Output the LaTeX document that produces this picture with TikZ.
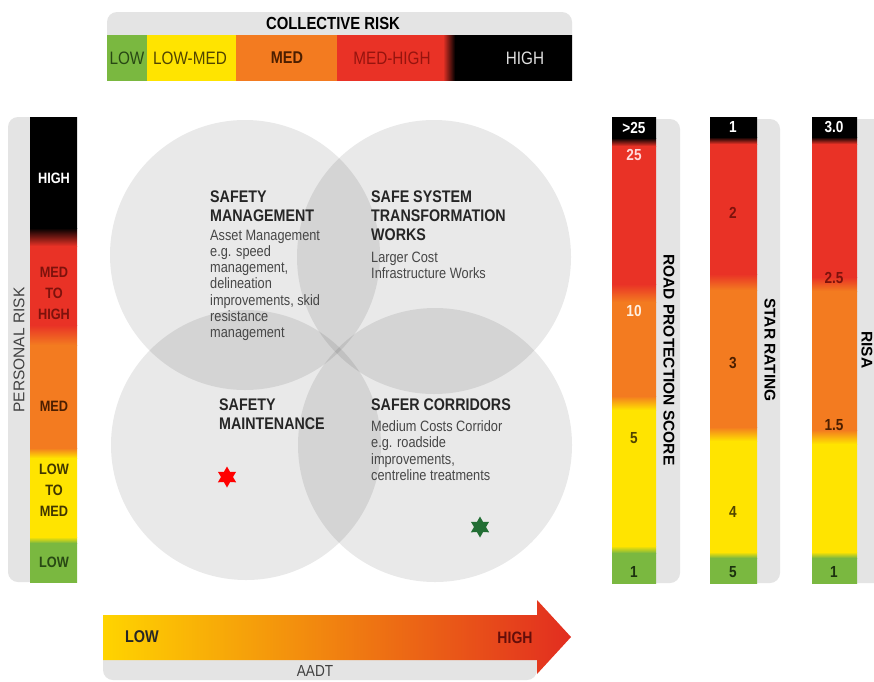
\documentclass[tikz,border=0pt]{standalone}
\usepackage{fontspec}
\setmainfont{Liberation Sans}
\newfontfamily\cond[FakeStretch=0.85]{Liberation Sans}
\usetikzlibrary{shapes.geometric}
\definecolor{cgreen}{RGB}{122,184,64}
\definecolor{cyellow}{RGB}{255,228,0}
\definecolor{corange}{RGB}{243,123,32}
\definecolor{cred}{RGB}{233,50,38}
\definecolor{cgray}{RGB}{228,228,228}
\definecolor{ayellow}{RGB}{255,212,0}
\definecolor{aorange}{RGB}{244,150,30}
\definecolor{ared}{RGB}{226,45,32}
\definecolor{tgreen}{RGB}{40,72,20}
\definecolor{tolive}{RGB}{80,68,0}
\definecolor{tbrown}{RGB}{75,30,0}
\definecolor{tdred}{RGB}{125,18,12}
\definecolor{tmred}{RGB}{150,20,14}
\definecolor{tgray}{RGB}{65,65,65}
\definecolor{sgreen}{RGB}{34,110,52}
\tikzset{
  strip/.style={fill=cgray, rounded corners=10pt},
  circ/.style={fill=black, fill opacity=0.085},
  ttl/.style={font=\cond\bfseries\fontsize{16.8}{19}\selectfont, align=left, anchor=north west, inner sep=0, text=black!85},
  bdy/.style={font=\cond\fontsize{15}{16.3}\selectfont, align=left, anchor=north west, inner sep=0, text=black!72},
  toplab/.style={font=\cond\fontsize{18}{20}\selectfont, inner sep=0},
  blab/.style={font=\cond\bfseries\fontsize{15}{21}\selectfont, inner sep=0, align=center},
  nlab/.style={font=\cond\bfseries\fontsize{16}{18}\selectfont, inner sep=0},
  vlab/.style={font=\bfseries\fontsize{15.5}{18}\selectfont, inner sep=0, rotate=-90},
  starmark/.style={star, star points=6, star point ratio=1.75, inner sep=0, minimum size=21pt}
}
\newcommand{\vbarsegs}[3]{%
  \foreach \ya/\yb/\ca/\cb in {#3}{\shade[top color=\ca, bottom color=\cb] (#1,\ya) rectangle (#2,\yb);}}
\begin{document}
\begin{tikzpicture}[x=1pt,y=-1pt]
\useasboundingbox (0,0) rectangle (874,681);
\fill[white] (0,0) rectangle (874,681);

% ---------- gray strips ----------
\fill[strip] (107,12) rectangle (572,48);
\fill[strip] (8,117) rectangle (45,582);
\fill[strip] (645,119) rectangle (680,583);
\fill[strip] (745,119) rectangle (780,583);
\fill[strip] (845,119) rectangle (885,583);
\fill[strip] (103,645) rectangle (537,680);

% ---------- top bar ----------
\foreach \xa/\xb/\ca/\cb in {107/147/cgreen/cgreen,147/236/cyellow/cyellow,236/337/corange/corange,337/443/cred/cred,443/455/cred/black,455/572/black/black}{
  \shade[left color=\ca, right color=\cb] (\xa,35) rectangle (\xb,80);}
\node[font=\cond\bfseries\fontsize{17.5}{20}\selectfont, inner sep=0] (coll) at (333,23) {COLLECTIVE RISK};
\node[toplab, text=tgreen] (tlow) at (127,58) {LOW};
\node[toplab, text=tolive] (tlowmed) at (190,58) {LOW-MED};
\node[toplab, font=\cond\bfseries\fontsize{17}{20}\selectfont, text=tbrown] (tmed) at (287,58) {MED};
\node[toplab, text=tmred] (tmedhigh) at (392,58) {MED-HIGH};
\node[toplab, text=black!12] (thigh) at (525,58) {HIGH};

% ---------- left bar ----------
\vbarsegs{30}{77}{117/228/black/black,228/246/black/cred,246/325/cred/cred,325/345/cred/corange,345/448/corange/corange,448/458/corange/cyellow,458/537/cyellow/cyellow,537/543/cyellow/cgreen,543/582/cgreen/cgreen}
\node[blab, text=white] (lhigh) at (54,178) {HIGH};
\node[blab, text=tdred] (lmedhigh) at (54,293) {MED\\TO\\HIGH};
\node[blab, text=tbrown] (lmed) at (54,406) {MED};
\node[blab, text=tolive!80!black] (llowmed) at (54,490) {LOW\\TO\\MED};
\node[blab, text=tgreen] (llow) at (54,562) {LOW};
\node[font=\fontsize{15.5}{18}\selectfont, text=tgray, rotate=90, inner sep=0] (pers) at (19,350) {PERSONAL RISK};

% ---------- right bars ----------
\vbarsegs{612}{656}{117/138/black/black,138/146/black/cred,146/284/cred/cred,284/302/cred/corange,302/396/corange/corange,396/410/corange/cyellow,410/546/cyellow/cyellow,546/553/cyellow/cgreen,553/583/cgreen/cgreen}
\vbarsegs{710}{757}{117/137/black/black,137/144/black/cred,144/274/cred/cred,274/290/cred/corange,290/427/corange/corange,427/441/corange/cyellow,441/552/cyellow/cyellow,552/558/cyellow/cgreen,558/583/cgreen/cgreen}
\vbarsegs{812}{857}{117/137/black/black,137/144/black/cred,144/277/cred/cred,277/291/cred/corange,291/430/corange/corange,430/444/corange/cyellow,444/552/cyellow/cyellow,552/558/cyellow/cgreen,558/583/cgreen/cgreen}

\node[nlab, text=white] (r25p) at (634,128) {>25};
\node[nlab, text=red!15] (r25) at (634,155) {25};
\node[nlab, text=orange!12] (r10) at (634,311) {10};
\node[nlab, text=tolive] (r5) at (634,438) {5};
\node[nlab, text=tgreen!70!black] (r1) at (634,572) {1};
\node[vlab] (rps) at (669,360) {ROAD PROTECTION SCORE};

\node[nlab, text=white] (s1) at (733,127) {1};
\node[nlab, text=tdred] (s2) at (733,213) {2};
\node[nlab, text=tbrown] (s3) at (733,363) {3};
\node[nlab, text=tolive] (s4) at (733,512) {4};
\node[nlab, text=tgreen!70!black] (s5) at (733,572) {5};
\node[vlab] (star) at (770,350) {STAR RATING};

\node[nlab, text=white] (k30) at (834,127) {3.0};
\node[nlab, text=tdred] (k25) at (834,278) {2.5};
\node[nlab, text=tbrown] (k15) at (834,425) {1.5};
\node[nlab, text=tgreen!70!black] (k1) at (834,572) {1};
\node[vlab] (risa) at (867,350) {RISA};

% ---------- circles ----------
\fill[circ] (245,255) circle[radius=135pt];
\fill[circ] (434,257) circle[radius=137pt];
\fill[circ] (246,445) circle[radius=135pt];
\fill[circ] (435,445) circle[radius=137pt];

\node[ttl] (smt) at (210,191) {SAFETY\\MANAGEMENT};
\node[bdy] (smb) at (210,229.5) {Asset Management\\e.g. speed\\management,\\delineation\\improvements, skid\\resistance\\management};
\node[ttl] (sst) at (371,191) {SAFE SYSTEM\\TRANSFORMATION\\WORKS};
\node[bdy] (ssb) at (371,252) {Larger Cost\\Infrastructure Works};
\node[ttl] (smaint) at (219,399) {SAFETY\\MAINTENANCE};
\node[ttl] (sct) at (371,399) {SAFER CORRIDORS};
\node[bdy] (scb) at (371,420.5) {Medium Costs Corridor\\e.g. roadside\\improvements,\\centreline treatments};

\node[starmark, fill=red] (redstar) at (227,477) {};
\node[starmark, fill=sgreen] (greenstar) at (480,527) {};

% ---------- AADT arrow ----------
\shade[left color=ayellow, middle color=aorange, right color=ared]
  (103,615) -- (537,615) -- (537,600) -- (571,637) -- (537,674) -- (537,660) -- (103,660) -- cycle;
\node[font=\cond\bfseries\fontsize{17}{20}\selectfont, text=black!85, inner sep=0] (alow) at (142,637) {LOW};
\node[font=\cond\bfseries\fontsize{16.5}{20}\selectfont, text=tdred!80!black, inner sep=0] (ahigh) at (515,638) {HIGH};
\node[font=\cond\fontsize{16}{18}\selectfont, text=tgray, inner sep=0] (aadt) at (315,671) {AADT};
\end{tikzpicture}
\end{document}
